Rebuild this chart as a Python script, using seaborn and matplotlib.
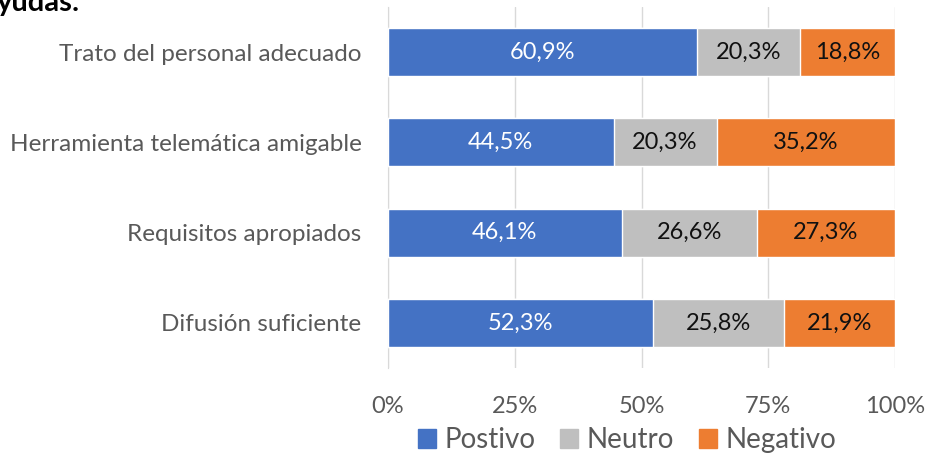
import pandas as pd
import matplotlib.pyplot as plt
import seaborn as sns

# datos
categorias = ["Trato del personal adecuado", "Herramienta telemática amigable",
              "Requisitos apropiados", "Difusión suficiente"]
positivo = [60.9, 44.5, 46.1, 52.3]
neutro = [20.3, 20.3, 26.6, 25.8]
negativo = [18.8, 35.2, 27.3, 21.9]

c_pos, c_neu, c_neg = "#4472C4", "#BFBFBF", "#ED7D31"
gris_txt = "#595959"

df = pd.DataFrame({"cat": categorias, "pos": positivo, "neu": neutro, "neg": negativo})
df["pos_neu"] = df["pos"] + df["neu"]
df["total"] = df["pos_neu"] + df["neg"]

sns.set_style("white")
plt.rcParams["font.family"] = ["Lato", "DejaVu Sans"]

fig = plt.figure(figsize=(9.25, 4.58), dpi=100)
ax = fig.add_axes([388 / 925, 1 - 368 / 458, (895 - 388) / 925, (368 - 7) / 458])

# barras apiladas: se dibuja de la suma acumulada hacia dentro
sns.barplot(data=df, y="cat", x="total", color=c_neg, width=0.53, ax=ax, zorder=3, saturation=1)
sns.barplot(data=df, y="cat", x="pos_neu", color=c_neu, width=0.53, ax=ax, zorder=3, saturation=1)
sns.barplot(data=df, y="cat", x="pos", color=c_pos, width=0.53, ax=ax, zorder=3, saturation=1)

fmt = lambda v: f"{v:.1f}%".replace(".", ",")
for i, r in df.iterrows():
    ax.text(r["pos"] / 2, i, fmt(r["pos"]), color="white",
            ha="center", va="center", fontsize=17, zorder=4)
    ax.text(r["pos"] + r["neu"] / 2, i, fmt(r["neu"]), color="#111111",
            ha="center", va="center", fontsize=17, zorder=4)
    ax.text(r["pos_neu"] + r["neg"] / 2, i, fmt(r["neg"]), color="#111111",
            ha="center", va="center", fontsize=17, zorder=4)

ax.set_xlim(0, 100)
ax.set_ylim(3.5, -0.5)
ax.set_xticks([0, 25, 50, 75, 100])
ax.set_xticklabels(["0%", "25%", "50%", "75%", "100%"])
ax.set_xlabel("")
ax.set_ylabel("")
ax.grid(axis="x", color="#D9D9D9", linewidth=1, zorder=0)
for s in ["top", "right", "bottom"]:
    ax.spines[s].set_visible(False)
ax.spines["left"].set_color("#D9D9D9")
ax.tick_params(axis="x", labelsize=17, labelcolor=gris_txt, length=0, pad=20)
ax.tick_params(axis="y", labelsize=17.5, labelcolor=gris_txt, length=0, pad=19)

handles = [plt.Rectangle((0, 0), 1, 1, color=c) for c in (c_pos, c_neu, c_neg)]
fig.legend(handles, ["Postivo", "Neutro", "Negativo"], loc="center",
           bbox_to_anchor=(627 / 925, 1 - 440 / 458), ncol=3, frameon=False,
           fontsize=20, labelcolor=gris_txt, handlelength=0.65, handleheight=0.65,
           handletextpad=0.3, columnspacing=0.9)

# título recortado arriba
fig.text(-0.003, 1 - 11 / 458, "yudas:", fontsize=21, fontweight="bold", color="black",
         ha="left", va="baseline")

fig.savefig("out.png", dpi=100)
